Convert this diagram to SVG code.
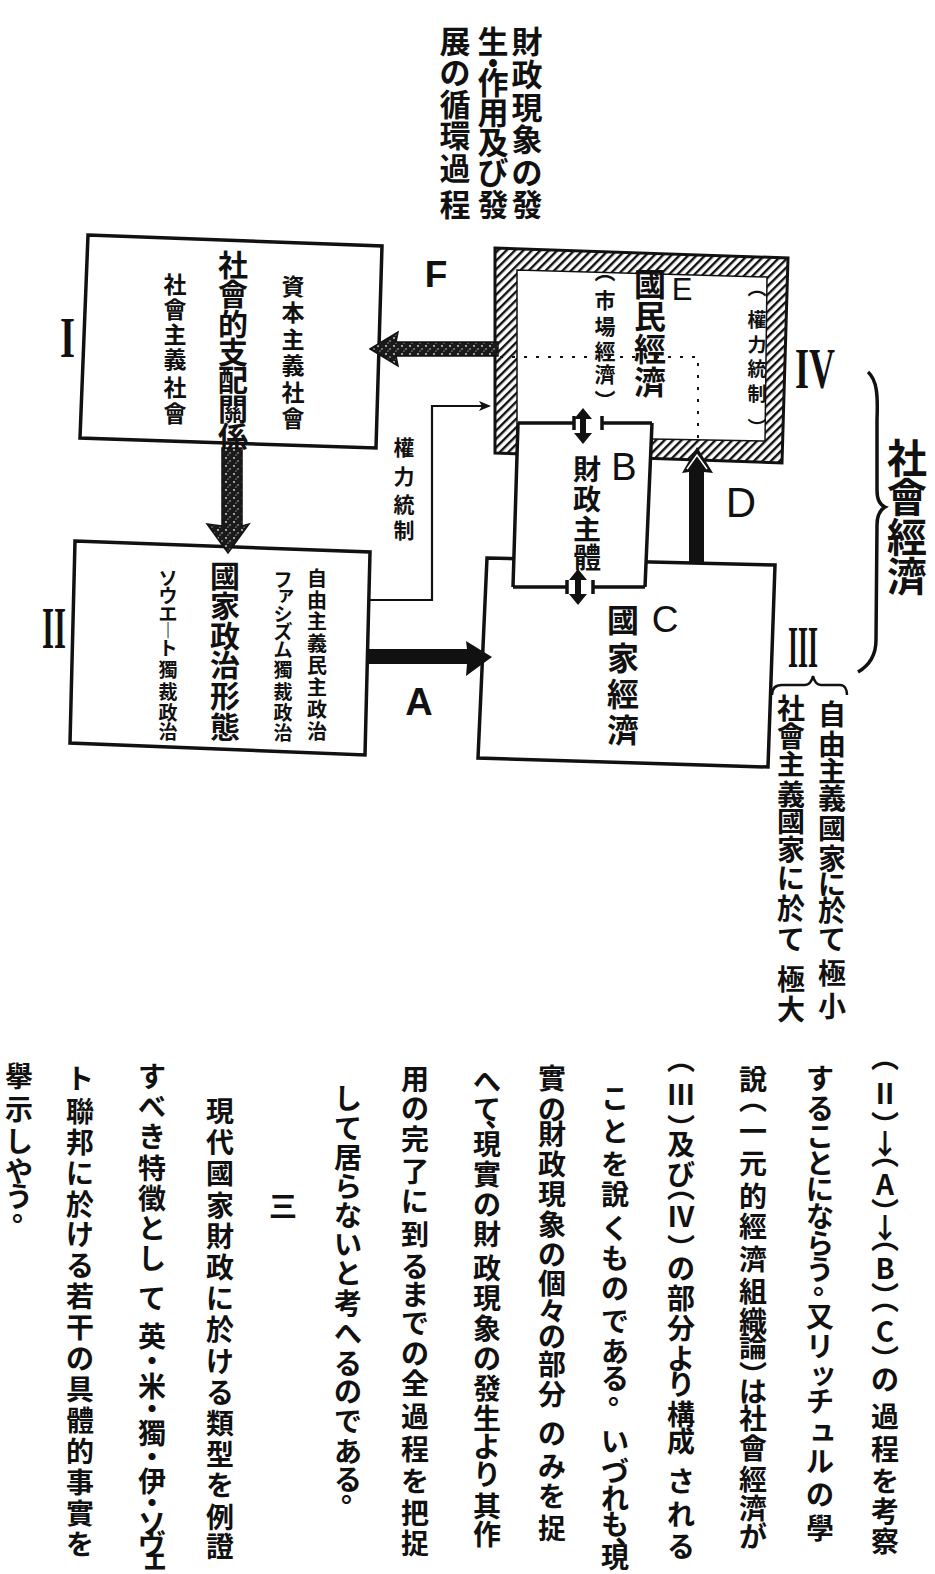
<svg xmlns="http://www.w3.org/2000/svg" width="935" height="1574" viewBox="0 0 935 1574">
<style>
.jp{font-family:"Noto Sans CJK JP","Noto Sans CJK SC",sans-serif;font-weight:700;fill:#111;text-anchor:middle;dominant-baseline:central}
.body{font-size:28px}
.lat{font-family:"Liberation Sans",Arial,sans-serif;fill:#111;text-anchor:middle}
.rom{font-family:"Liberation Serif","Times New Roman",serif;font-weight:700;fill:#111}
.box{fill:#fff;stroke:#111;stroke-width:3.5;stroke-linejoin:miter}
.edge{fill:none;stroke:#111;stroke-width:3.5}
</style>
<defs>
<pattern id="hatch" width="6" height="6" patternUnits="userSpaceOnUse" patternTransform="rotate(45)"><rect width="6" height="6" fill="#fff"/><rect width="2.4" height="6" fill="#111"/></pattern>
<pattern id="speck" width="8" height="8" patternUnits="userSpaceOnUse"><rect width="8" height="8" fill="#1a1a1a"/><circle cx="2" cy="2" r="0.9" fill="#ddd"/><circle cx="6" cy="5" r="0.8" fill="#ccc"/><circle cx="4" cy="7" r="0.6" fill="#eee"/></pattern>
<marker id="ah" markerUnits="userSpaceOnUse" markerWidth="12" markerHeight="10" refX="10" refY="5" orient="auto"><path d="M0,0 L12,5 L0,10 L3,5 Z" fill="#111"/></marker>
</defs>
<rect width="935" height="1574" fill="#fff"/>

<g id="title">
<text class="jp" font-size="31" x="527 527 527 527 527 527" y="39 72 105 137 170 202">財政現象の發</text>
<text class="jp" font-size="31" x="493 493 493 493 493 493 493" y="39 60 80 110 140 170 202">生・作用及び發</text>
<text class="jp" font-size="31" x="455 455 455 455 455 455" y="39 70 102 133 166 202">展の循環過程</text>
</g>

<g id="node-C">
<polygon class="box" points="487,558 775,565 768,767 478,758"/>
<text class="jp" font-size="32" x="623 623 623 623" y="618 656 692 728">國家經濟</text>
<text class="lat" font-size="37" x="665" y="632">C</text>
</g>

<g id="node-IV">
<path fill="url(#hatch)" fill-rule="evenodd" d="M495,248 L788,258 L782,463 L495,453 Z M517,270 L767,277 L765,441 L652,439 L652,423 L517,423 Z"/>
<path d="M495,248 L788,258 L782,463 L495,453 Z" fill="none" stroke="#111" stroke-width="3"/>
<path d="M517,423 L517,270 L767,277 L765,441 L652,439" fill="none" stroke="#111" stroke-width="1.5"/>
<text class="jp" font-size="32" x="650 650 650 650" y="282 314 347 380">國民經濟</text>
<text class="lat" font-size="31" x="682" y="300">E</text>
<text class="jp" font-size="21" x="605 605 605 605 605 605" y="270 299 325 350 373 399">︵市場經濟︶</text>
<text class="jp" font-size="19" x="757 757 757 757 757 757" y="286 318 343 367 392 426">︵權力統制︶</text>
</g>

<g id="node-B">
<polygon points="518,423 652,423 645,587 513,587" fill="#fff"/>
<path class="edge" d="M518,423 L574,423 M602,423 L652,423 M574,416 V430 M602,416 V430 M513,587 L567,587 M593,587 L645,587 M567,580 V594 M593,580 V594 M518,423 L513,587 M652,423 L645,587"/>
<text class="jp" font-size="28" x="587 587 587 587" y="468 498 528 556">財政主體</text>
<text class="lat" font-size="38" x="624" y="480">B</text>
</g>

<g id="node-I">
<polygon class="box" points="88,235 382,246 376,448 80,438"/>
<text class="jp" font-size="30" x="233 233 233 233 233 233 233" y="263 292 322 350 378 407 435">社會的支配關係</text>
<text class="jp" font-size="23" x="293 293 293 293 293 293" y="285 311 338 364 391 417">資本主義社會</text>
<text class="jp" font-size="23" x="175 175 175 175 175 175" y="283 308 333 358 386 412">社會主義社會</text>
</g>

<g id="node-II">
<polygon class="box" points="75,541 370,552 365,755 70,743"/>
<text class="jp" font-size="30" x="225 225 225 225 225 225" y="574 604 634 663 694 725">國家政治形態</text>
<text class="jp" font-size="20" x="317 317 317 317 317 317 317 317" y="577 599 620 642 664 686 708 730">自由主義民主政治</text>
<text class="jp" font-size="19" x="283 286 283 283 283 283 283 283 283" y="578 592 612 630 648 668 690 711 731">ファシズム獨裁政治</text>
<text class="jp" font-size="19" x="168 168 168 168 168 168 168 168 168" y="576 594 612 629 646 668 690 711 730">ソウエ︱ト獨裁政治</text>
</g>

<g id="labels">
<text class="rom" x="60" y="357" font-size="56" textLength="15" lengthAdjust="spacingAndGlyphs">I</text>
<text class="rom" x="42" y="648" font-size="60" textLength="24" lengthAdjust="spacingAndGlyphs">II</text>
<text class="rom" x="788" y="667" font-size="60" textLength="30" lengthAdjust="spacingAndGlyphs">III</text>
<text class="rom" x="795" y="388" font-size="57" textLength="40" lengthAdjust="spacingAndGlyphs">IV</text>
<text class="lat" font-size="37" font-weight="700" x="436" y="287">F</text>
<text class="lat" font-size="38" font-weight="700" x="419" y="715">A</text>
<text class="lat" font-size="42" x="741" y="517">D</text>
<text class="jp" font-size="21" x="404 404 404 404" y="446 475 503 529">權力統制</text>
<text class="jp" font-size="40" x="907 907 907 907" y="456 495 535 574">社會經濟</text>
<path d="M868,372 C877,380 878,395 877,420 L877,490 C877,500 880,505 885,507 C880,510 877,515 877,525 L876,640 C876,655 870,665 858,672" fill="none" stroke="#111" stroke-width="3.5"/>
<path d="M772,695 C772,688 776,685 782,685 L805,685 C810,685 812,680 813,676 C814,680 816,685 821,685 L840,685 C845,685 847,690 847,695" fill="none" stroke="#111" stroke-width="2.5"/>
<text class="jp" font-size="28" x="832 832 832 832 832 832 832 832 832 832 832" y="713 743 770 797 827 857 883 909 938 972 1005">自由主義國家に於て極小</text>
<text class="jp" font-size="28" x="791 791 791 791 791 791 791 791 791 791 791" y="707 735 763 793 820 848 877 907 938 978 1008">社會主義國家に於て極大</text>
</g>

<g id="connectors">
<polygon points="370,349 398,332 396,342 498,342 498,356 396,356 398,366" fill="url(#speck)" stroke="#111" stroke-width="1.5"/>
<polygon points="222,448 242,448 242,526 249,524 228,553 207,524 222,526" fill="url(#speck)" stroke="#111" stroke-width="1.5"/>
<polygon points="368,649 467,649 466,641 492,657 466,676 467,664 368,664" fill="#111"/>
<polygon points="689,563 704,563 704,472 713,473 697,447 682,473 689,472" fill="#111"/>
<polyline points="687,469 697,455 707,469" fill="none" stroke="#fff" stroke-width="1.5"/>
<path d="M368,600 H432 V406 H489" fill="none" stroke="#111" stroke-width="2.2" marker-end="url(#ah)"/>
<path d="M500,357 H698 V447" fill="none" stroke="#111" stroke-width="2" stroke-dasharray="3 9"/>
<polygon points="583,408 592,419 586,419 586,433 592,433 583,444 574,433 580,433 580,419 574,419" fill="#111"/>
<polygon points="578,569 587,580 581,580 581,594 587,594 578,605 569,594 575,594 575,580 569,580" fill="#111"/>
</g>

<g id="body-text" class="jp body">
<text x="885 885 885 885 885 885 885 885 885 885 885 885 885 885 885 885 885 885 885 885" y="1056 1092 1124 1143 1153 1183 1211 1227 1237 1267 1295 1298 1330 1358 1378 1415 1448 1480 1510 1540">︵Ⅱ︶↓︵A︶↓︵B︶︵C︶の過程を考察</text>
<text x="820 820 820 820 820 820 820 820 827 820 820 823 820 823 820 820 820" y="1077 1107 1135 1162 1188 1215 1242 1268 1282 1315 1345 1372 1400 1428 1460 1493 1527">することにならう。又リッチュルの學</text>
<text x="753 753 753 753 753 753 753 753 753 753 753 753 753 753 753 753 753" y="1078 1098 1130 1162 1195 1225 1258 1290 1320 1345 1374 1390 1417 1447 1478 1507 1535">說︵一元的經濟組織論︶は社會經濟が</text>
<text x="681 681 681 681 681 681 681 681 681 681 681 681 681 681 681 681 681 681" y="1058 1093 1127 1143 1173 1186 1215 1247 1267 1297 1327 1357 1383 1413 1440 1480 1513 1545">︵Ⅲ︶及び︵Ⅳ︶の部分より構成される</text>
<text x="615 615 615 615 615 615 615 615 615 615 622 615 615 615 615 629 615" y="1097 1130 1163 1193 1227 1257 1287 1320 1350 1377 1392 1440 1470 1497 1523 1532 1556">ことを說くものである。いづれも、現</text>
<text x="552 552 552 552 552 552 552 552 552 552 552 552 552 552 552 552" y="1077 1108 1133 1163 1193 1223 1253 1282 1310 1335 1363 1393 1432 1465 1495 1527">實の財政現象の個々の部分のみを捉</text>
<text x="487 487 499 487 487 487 487 487 487 487 487 487 487 487 487 487 487" y="1080 1108 1115 1143 1173 1203 1233 1267 1297 1327 1357 1387 1417 1445 1473 1505 1533">へて、現實の財政現象の發生より其作</text>
<text x="415 415 415 415 415 415 415 415 415 415 415 415 415 415 415 415" y="1078 1107 1138 1170 1200 1233 1265 1293 1322 1352 1382 1415 1448 1480 1512 1542">用の完了に到るまでの全過程を把捉</text>
<text x="348 348 348 348 348 348 348 348 348 348 348 348 348 348 355" y="1097 1127 1156 1185 1214 1243 1272 1302 1332 1362 1390 1420 1450 1478 1490">して居らないと考へるのである。</text>
<text x="283" y="1205">三</text>
<text x="220 220 220 220 220 220 220 220 220 220 220 220 220 220 220" y="1110 1141 1172 1204 1235 1266 1297 1328 1360 1391 1422 1453 1484 1516 1545">現代國家財政に於ける類型を例證</text>
<text x="152 152 152 152 152 152 152 152 152 152 152 152 152 152 152 152 152 152 155" y="1075 1105 1135 1167 1197 1227 1257 1297 1335 1360 1385 1408 1432 1456 1480 1502 1522 1543 1557">すべき特徵として英・米・獨・伊・ソヴェ</text>
<text x="80 80 80 80 80 80 80 80 80 80 80 80 80 80 80 80" y="1077 1110 1141 1172 1203 1233 1264 1295 1326 1357 1388 1419 1450 1481 1512 1543">ト聯邦に於ける若干の具體的事實を</text>
<text x="19 19 19 19 19 26" y="1075 1108 1140 1170 1195 1209">擧示しやう。</text>
</g>
</svg>
